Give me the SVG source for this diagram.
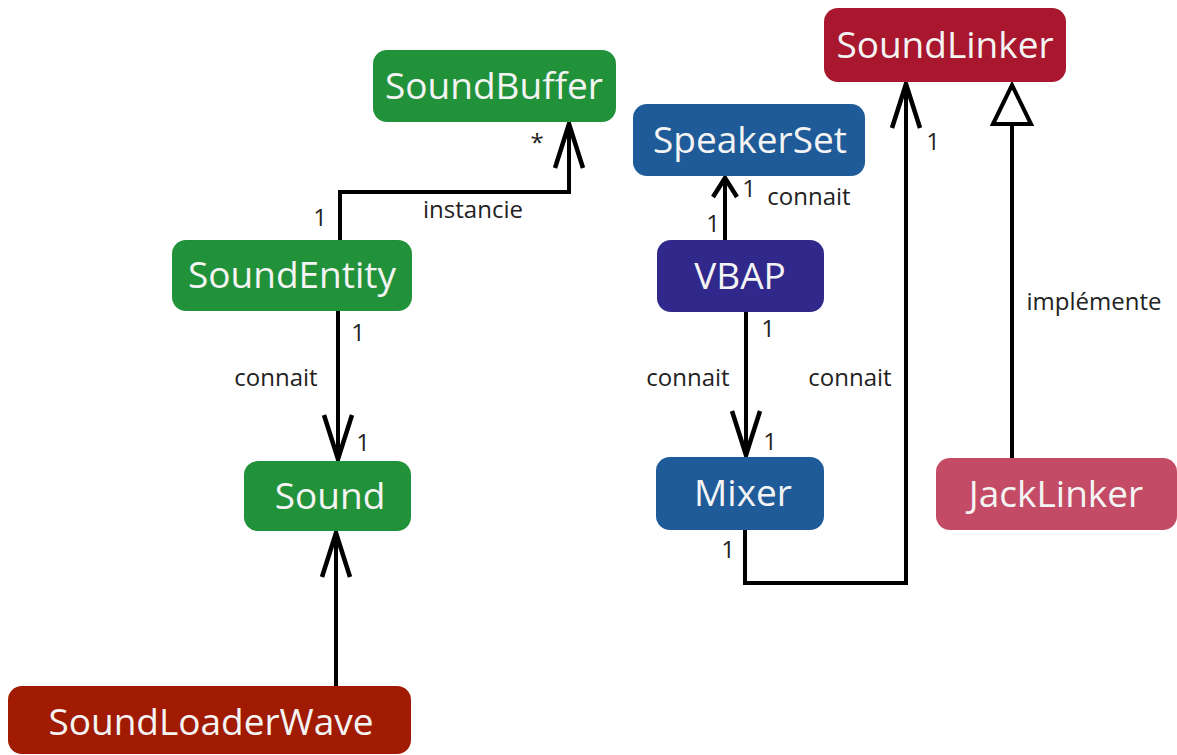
<svg xmlns="http://www.w3.org/2000/svg" width="1177" height="755" viewBox="0 0 1177 755">
<style>
.box{stroke:none}
.nt{font-family:"Open Sans","Noto Sans",sans-serif;font-size:37px;fill:#f4f4f4;text-anchor:middle}
.lb{font-family:"Open Sans","Noto Sans",sans-serif;font-size:24px;fill:#222;text-anchor:middle}
.ln{fill:none;stroke:#000;stroke-width:4}
.green{fill:#22923a}
.blue{fill:#1f5b98}
</style>
<defs>
<marker id="open" markerUnits="userSpaceOnUse" markerWidth="60" markerHeight="40" refX="0" refY="0" viewBox="-50 -20 55 40" orient="auto" overflow="visible">
<path d="M-44,-14 L0,0 L-44,14" fill="none" stroke="#000" stroke-width="4.5"/>
</marker>
<marker id="openSmall" markerUnits="userSpaceOnUse" markerWidth="30" markerHeight="30" refX="0" refY="0" viewBox="-25 -15 30 30" orient="auto" overflow="visible">
<path d="M-19,-12 L0,0 L-19,12" fill="none" stroke="#000" stroke-width="4.5"/>
</marker>
<marker id="tri" markerUnits="userSpaceOnUse" markerWidth="50" markerHeight="50" refX="0" refY="0" viewBox="-45 -25 50 50" orient="auto" overflow="visible">
<path d="M-39,-19 L0,0 L-39,19 Z" fill="#fff" stroke="#000" stroke-width="4"/>
</marker>
</defs>
<g id="connectors">
<path class="ln" d="M340,240 V192 H569 V124" marker-end="url(#open)"/>
<path class="ln" d="M338,310 V459" marker-end="url(#open)"/>
<path class="ln" d="M336,686 V533" marker-end="url(#open)"/>
<path class="ln" d="M725,240 V178" marker-end="url(#openSmall)"/>
<path class="ln" d="M746,312 V455" marker-end="url(#open)"/>
<path class="ln" d="M745,530 V583 H906 V84" marker-end="url(#open)"/>
<path class="ln" d="M1012,458 V85" marker-end="url(#tri)"/>
<text class="lb" x="537" y="151">*</text>
<text class="lb" x="473" y="218">instancie</text>
<text class="lb" x="320" y="226">1</text>
<text class="lb" x="358" y="341">1</text>
<text class="lb" x="276" y="386">connait</text>
<text class="lb" x="363" y="451">1</text>
<text class="lb" x="749" y="197">1</text>
<text class="lb" x="809" y="205">connait</text>
<text class="lb" x="713" y="232">1</text>
<text class="lb" x="768" y="337">1</text>
<text class="lb" x="688" y="386">connait</text>
<text class="lb" x="850" y="386">connait</text>
<text class="lb" x="770" y="450">1</text>
<text class="lb" x="728" y="558">1</text>
<text class="lb" x="933" y="150">1</text>
<text class="lb" x="1094" y="310">implémente</text>
</g>
<g id="SoundBuffer"><rect class="box green" x="373" y="50" width="243" height="72" rx="14"/><text class="nt" x="494" y="99">SoundBuffer</text></g>
<g id="SoundEntity"><rect class="box green" x="172" y="240" width="240" height="71" rx="14"/><text class="nt" x="292" y="288">SoundEntity</text></g>
<g id="Sound"><rect class="box green" x="244" y="461" width="167" height="70" rx="14"/><text class="nt" x="330" y="509">Sound</text></g>
<g id="SoundLoaderWave"><rect class="box" fill="#a11a02" x="8" y="686" width="403" height="68" rx="14"/><text class="nt" x="211" y="735">SoundLoaderWave</text></g>
<g id="SpeakerSet"><rect class="box blue" x="633" y="104" width="232" height="72" rx="14"/><text class="nt" x="750" y="153">SpeakerSet</text></g>
<g id="VBAP"><rect class="box" fill="#30288a" x="657" y="240" width="167" height="72" rx="14"/><text class="nt" x="740" y="289">VBAP</text></g>
<g id="Mixer"><rect class="box blue" x="656" y="457" width="168" height="73" rx="14"/><text class="nt" x="743" y="506">Mixer</text></g>
<g id="SoundLinker"><rect class="box" fill="#a9172e" x="824" y="8" width="242" height="74" rx="14"/><text class="nt" x="945" y="58">SoundLinker</text></g>
<g id="JackLinker"><rect class="box" fill="#c44b66" x="936" y="458" width="241" height="72" rx="14"/><text class="nt" x="1056" y="507">JackLinker</text></g>
</svg>
